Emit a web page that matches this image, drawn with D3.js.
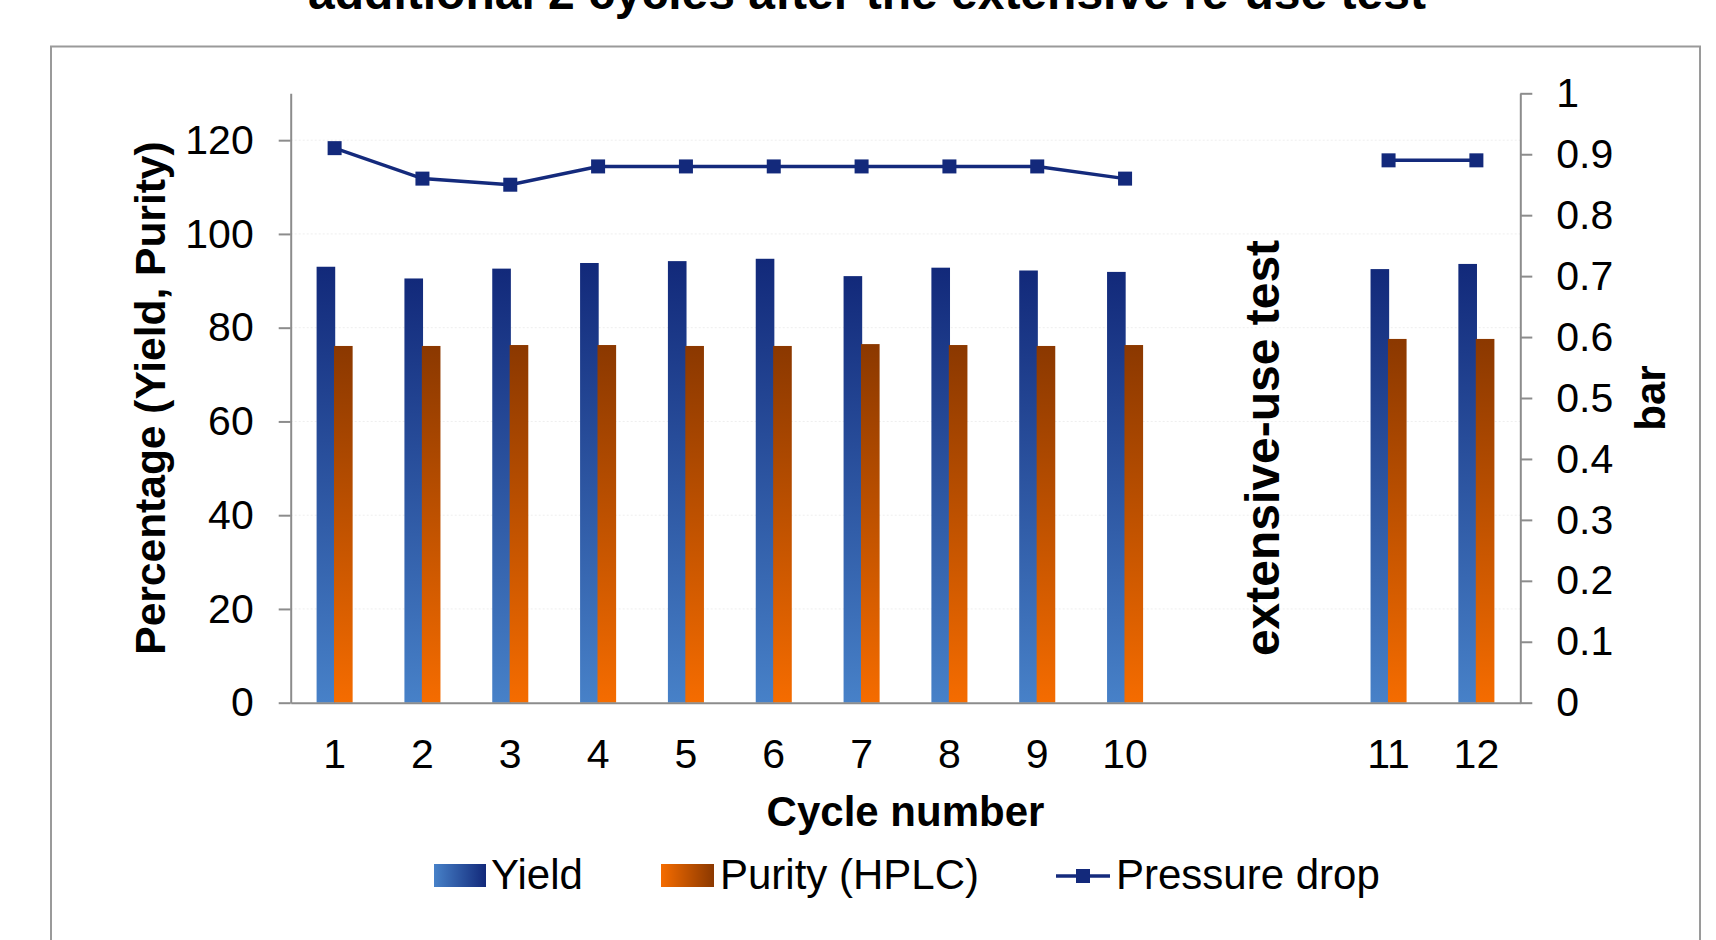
<!DOCTYPE html>
<html lang="en">

<head>
    <meta charset="UTF-8">
    <title>Cycle test chart</title>
    <style>
        body {
            margin: 0;
            background: #ffffff;
            font-family: 'Liberation Sans', Arial, Helvetica, sans-serif;
        }

        .axis text {
            fill: #000000;
            font-size: 41px;
            font-family: 'Liberation Sans', Arial, sans-serif;
        }

        .axis path,
        .axis line {
            stroke: #8c8c8c;
            stroke-width: 2px;
        }

        .grid line {
            stroke: #eeeeee;
            stroke-width: 1px;
            stroke-dasharray: 2, 2;
        }

        .boldText {
            font-weight: bold;
            fill: #000000;
        }
    </style>
</head>

<body>
    <div id="chart"></div>
</body>
<script src="https://cdn.jsdelivr.net/npm/d3@7/dist/d3.min.js"></script>
<script>
    // categories (two empty slots between cycle 10 and 11)
    var cycles = ['1', '2', '3', '4', '5', '6', '7', '8', '9', '10', 'gapA', 'gapB', '11', '12'];
    var yieldValues = [93.0, 90.5, 92.6, 93.8, 94.2, 94.7, 91.0, 92.8, 92.2, 91.9, null, null, 92.5, 93.6];
    var purityValues = [76.1, 76.1, 76.3, 76.3, 76.1, 76.1, 76.5, 76.3, 76.1, 76.3, null, null, 77.6, 77.6];
    var pressureValues = [0.91, 0.86, 0.85, 0.88, 0.88, 0.88, 0.88, 0.88, 0.88, 0.86, null, null, 0.89, 0.89];

    var leftTicks = [0, 20, 40, 60, 80, 100, 120];
    var rightTicks = [0, 0.1, 0.2, 0.3, 0.4, 0.5, 0.6, 0.7, 0.8, 0.9, 1];
    var seriesNames = ['Yield', 'Purity (HPLC)', 'Pressure drop'];

    var W = 1716, H = 940;
    var plot = { left: 290.7, right: 1520.3, top: 93.3, bottom: 702.7 };

    var svg = d3.select('#chart').append('svg')
        .attr('width', W)
        .attr('height', H);

    // gradients
    var defs = svg.append('defs');
    function addGradient(id, dark, light, horizontal) {
        var g = defs.append('linearGradient').attr('id', id);
        if (horizontal) {
            g.attr('x1', 0).attr('y1', 0).attr('x2', 1).attr('y2', 0);
            g.append('stop').attr('offset', '0%').attr('stop-color', light);
            g.append('stop').attr('offset', '100%').attr('stop-color', dark);
        } else {
            g.attr('x1', 0).attr('y1', 0).attr('x2', 0).attr('y2', 1);
            g.append('stop').attr('offset', '0%').attr('stop-color', dark);
            g.append('stop').attr('offset', '100%').attr('stop-color', light);
        }
    }
    addGradient('blueV', '#12297a', '#4781c8', false);
    addGradient('orangeV', '#8b3800', '#f56c00', false);
    addGradient('blueH', '#12297a', '#4781c8', true);
    addGradient('orangeH', '#8b3800', '#f56c00', true);

    // outer frame
    svg.append('rect')
        .attr('x', 51)
        .attr('y', 46.5)
        .attr('width', 1649)
        .attr('height', 1000)
        .attr('fill', 'none')
        .attr('stroke', '#9a9a9a')
        .attr('stroke-width', 2);

    // title (cut at the top of the picture, as in the original)
    svg.append('text')
        .attr('class', 'boldText')
        .attr('x', 867)
        .attr('y', 9)
        .attr('text-anchor', 'middle')
        .attr('font-size', 48)
        .text('additional 2 cycles after the extensive re-use test');

    // scales
    var xScale = d3.scaleBand().domain(cycles).range([plot.left, plot.right]).padding(0);
    var yLeft = d3.scaleLinear().domain([0, 130]).range([plot.bottom, plot.top]);
    var yRight = d3.scaleLinear().domain([0, 1]).range([plot.bottom, plot.top]);

    // grid lines
    svg.append('g')
        .attr('class', 'grid')
        .selectAll('line')
        .data(leftTicks.slice(1))
        .enter().append('line')
        .attr('x1', plot.left)
        .attr('x2', plot.right)
        .attr('y1', function (d) { return yLeft(d); })
        .attr('y2', function (d) { return yLeft(d); });

    // bars
    var band = xScale.bandwidth();
    var barW = band * 0.212;
    var rows = cycles.map(function (c, i) {
        return { cycle: c, yield: yieldValues[i], purity: purityValues[i], pressure: pressureValues[i] };
    });
    var barRows = rows.filter(function (d) { return d.yield != null; });

    svg.append('g').selectAll('rect')
        .data(barRows)
        .enter().append('rect')
        .attr('x', function (d) { return xScale(d.cycle) + band / 2 - barW + 0.6; })
        .attr('y', function (d) { return yLeft(d.yield); })
        .attr('width', barW)
        .attr('height', function (d) { return yLeft(0) - yLeft(d.yield); })
        .attr('fill', 'url(#blueV)');

    svg.append('g').selectAll('rect')
        .data(barRows)
        .enter().append('rect')
        .attr('x', function (d) { return xScale(d.cycle) + band / 2 - 0.6; })
        .attr('y', function (d) { return yLeft(d.purity); })
        .attr('width', barW)
        .attr('height', function (d) { return yLeft(0) - yLeft(d.purity); })
        .attr('fill', 'url(#orangeV)');

    // axes
    svg.append('g')
        .attr('class', 'axis')
        .attr('transform', 'translate(0,' + plot.bottom + ')')
        .call(d3.axisBottom(xScale).tickSize(0).tickSizeOuter(0).tickPadding(36)
            .tickFormat(function (d) { return d.indexOf('gap') === 0 ? '' : d; }));

    svg.append('g')
        .attr('class', 'axis')
        .attr('transform', 'translate(' + plot.left + ',0)')
        .call(d3.axisLeft(yLeft).tickValues(leftTicks).tickSize(12).tickSizeOuter(0).tickPadding(25));

    svg.append('g')
        .attr('class', 'axis')
        .attr('transform', 'translate(' + plot.right + ',0)')
        .call(d3.axisRight(yRight).tickValues(rightTicks).tickSize(12).tickSizeOuter(0).tickPadding(24)
            .tickFormat(function (d) { return String(+d.toFixed(1)); }));

    // pressure drop line
    var line = d3.line()
        .defined(function (d) { return d.pressure != null; })
        .x(function (d) { return xScale(d.cycle) + band / 2; })
        .y(function (d) { return yRight(d.pressure); });

    svg.append('path')
        .datum(rows)
        .attr('d', line)
        .attr('fill', 'none')
        .attr('stroke', '#142a7c')
        .attr('stroke-width', 3.5);

    var mk = 14;
    svg.append('g').selectAll('rect')
        .data(rows.filter(function (d) { return d.pressure != null; }))
        .enter().append('rect')
        .attr('x', function (d) { return xScale(d.cycle) + band / 2 - mk / 2; })
        .attr('y', function (d) { return yRight(d.pressure) - mk / 2; })
        .attr('width', mk)
        .attr('height', mk)
        .attr('fill', '#13297b');

    // axis titles
    svg.append('text')
        .attr('class', 'boldText')
        .attr('x', (plot.left + plot.right) / 2)
        .attr('y', 826)
        .attr('text-anchor', 'middle')
        .attr('font-size', 42)
        .text('Cycle number');

    svg.append('text')
        .attr('class', 'boldText')
        .attr('transform', 'translate(165,' + (plot.top + plot.bottom) / 2 + ') rotate(-90)')
        .attr('text-anchor', 'middle')
        .attr('font-size', 42.5)
        .text('Percentage (Yield, Purity)');

    svg.append('text')
        .attr('class', 'boldText')
        .attr('transform', 'translate(1665,' + (plot.top + plot.bottom) / 2 + ') rotate(-90)')
        .attr('text-anchor', 'middle')
        .attr('font-size', 42)
        .text('bar');

    // note in the gap
    svg.append('text')
        .attr('class', 'boldText')
        .attr('transform', 'translate(1279,448) rotate(-90)')
        .attr('text-anchor', 'middle')
        .attr('font-size', 48)
        .text('extensive-use test');

    // legend
    var legend = svg.append('g').attr('font-size', 42);
    legend.append('rect')
        .attr('x', 434).attr('y', 864).attr('width', 52).attr('height', 23)
        .attr('fill', 'url(#blueH)');
    legend.append('text').attr('x', 491).attr('y', 889).text(seriesNames[0]);

    legend.append('rect')
        .attr('x', 661).attr('y', 864).attr('width', 53).attr('height', 23)
        .attr('fill', 'url(#orangeH)');
    legend.append('text').attr('x', 720).attr('y', 889).text(seriesNames[1]);

    legend.append('line')
        .attr('x1', 1056).attr('x2', 1110).attr('y1', 876).attr('y2', 876)
        .attr('stroke', '#142a7c').attr('stroke-width', 3.5);
    legend.append('rect')
        .attr('x', 1083 - mk / 2).attr('y', 876 - mk / 2).attr('width', mk).attr('height', mk)
        .attr('fill', '#13297b');
    legend.append('text').attr('x', 1116).attr('y', 889).text(seriesNames[2]);
</script>

</html>
